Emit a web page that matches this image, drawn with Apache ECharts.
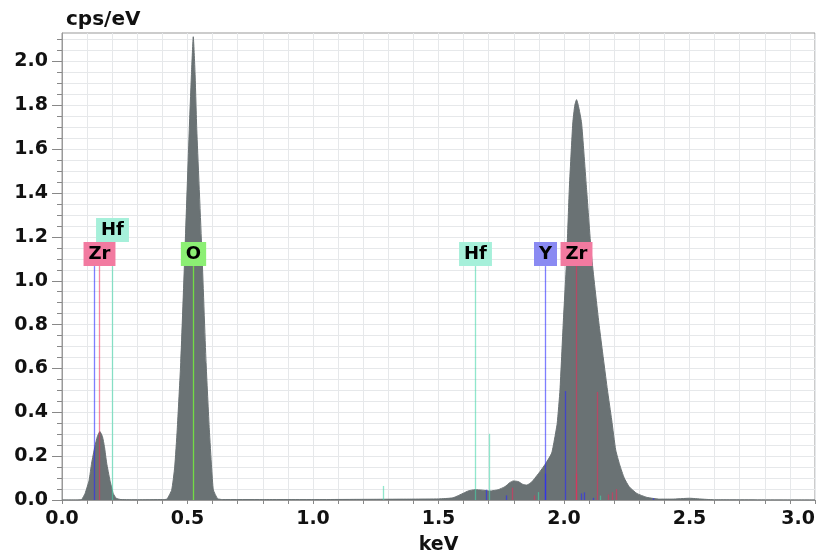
<!DOCTYPE html>
<html><head><meta charset="utf-8">
<script src="https://cdn.jsdelivr.net/npm/echarts@6/dist/echarts.min.js"></script>
<style>html,body{margin:0;padding:0;background:#fff}#c{width:822px;height:556px}</style>
</head><body><div id="c"></div>
<script>
// Spectrum (energy in keV, intensity in cps/eV)
const energyKeV = [0.0, 0.06, 0.078, 0.092, 0.108, 0.118, 0.131, 0.141, 0.151, 0.161, 0.169, 0.178, 0.191, 0.204, 0.216, 0.235, 0.3, 0.4,
  0.418, 0.437, 0.449, 0.459, 0.473, 0.49, 0.507, 0.516, 0.523, 0.530, 0.537, 0.557, 0.574, 0.587, 0.596, 0.603, 0.62, 0.64,
  0.8, 1.0, 1.2, 1.4, 1.5, 1.558, 1.599, 1.62, 1.645, 1.675, 1.705, 1.738, 1.765, 1.785, 1.798, 1.818, 1.835, 1.851, 1.866, 1.878,
  1.904, 1.928, 1.951, 1.964, 1.973, 1.984, 1.997, 2.011, 2.021, 2.035, 2.043, 2.050, 2.057, 2.070, 2.090, 2.110, 2.139, 2.173,
  2.190, 2.206, 2.222, 2.240, 2.260, 2.290, 2.330, 2.380, 2.430, 2.500, 2.550, 2.600, 3.0];
const intensity = [0, 0, 0.002, 0.03, 0.09, 0.168, 0.244, 0.29, 0.312, 0.29, 0.244, 0.168, 0.09, 0.03, 0.008, 0.002, 0.001, 0.002,
  0.004, 0.046, 0.15, 0.32, 0.626, 1.142, 1.689, 1.95, 2.113, 1.95, 1.689, 1.142, 0.626, 0.32, 0.15, 0.046, 0.006, 0.002,
  0.002, 0.002, 0.003, 0.004, 0.005, 0.01, 0.031, 0.042, 0.047, 0.045, 0.041, 0.047, 0.061, 0.08, 0.087, 0.084, 0.072, 0.068, 0.077, 0.091,
  0.129, 0.168, 0.214, 0.289, 0.35, 0.502, 0.807, 1.111, 1.416, 1.72, 1.80, 1.826, 1.80, 1.72, 1.416, 1.111, 0.807, 0.502,
  0.365, 0.228, 0.16, 0.10, 0.06, 0.03, 0.012, 0.004, 0.004, 0.008, 0.004, 0.001, 0];

// Element marker lines
const lineEnergy = [0.127, 0.147, 0.198, 0.521, 1.279, 1.645, 1.689, 1.701, 1.768, 1.794, 1.882, 1.898, 1.925, 1.925, 2.003, 2.048, 2.048, 2.068, 2.080, 2.117, 2.130, 2.143, 2.177, 2.190, 2.206, 2.356];
const lineHeight = [1.067, 1.067, 1.067, 1.067, 0.064, 1.067, 0.047, 0.302, 0.021, 0.056, 0.021, 0.036, 1.067, 0.12, 0.497, 1.067, 0.12, 0.03, 0.035, 0.01, 0.493, 0.02, 0.025, 0.035, 0.05, 0.008];
const lineElement = ['Y','Zr','Hf','O','Hf','Hf','Y','Hf','Y','Zr','Zr','Hf','Y','Y','Y','Zr','Zr','Y','Y','Y','Zr','Hf','Zr','Zr','Zr','Y'];

// Element labels
const labelEnergy = [0.147, 0.198, 0.521, 1.645, 1.925, 2.048];
const labelText = ['Zr', 'Hf', 'O', 'Hf', 'Y', 'Zr'];
const labelLevel = 1.067;

// Axis tick labels
const xTickLabels = [0.0, 0.5, 1.0, 1.5, 2.0, 2.5, 3.0];
const yTickLabels = [0.0, 0.2, 0.4, 0.6, 0.8, 1.0, 1.2, 1.4, 1.6, 1.8, 2.0];

const lineColor = {Zr: 'rgba(240,40,90,0.55)', Hf: 'rgba(70,215,170,0.6)', O: '#72dc45', Y: 'rgba(40,40,255,0.6)'};
const boxColor = {Zr: '#f27aa0', Hf: '#a6f0da', O: '#8cef74', Y: '#8a8af2'};

const spectrum = energyKeV.map((e, i) => [e, intensity[i]]);
const lineData = lineEnergy.map((e, i) => [e, lineHeight[i], i]);
const labelData = labelEnergy.map((e, i) => [e, labelLevel, i]);

const yMinor = [];
for (let k = 0; k <= 42; k++) yMinor.push(+(k * 0.05).toFixed(2));

const FONT = 'DejaVu Sans';
let tiers = null;
function computeTiers(api) {
  tiers = [];
  const placed = [];
  labelEnergy.forEach((e, i) => {
    const px = api.coord([e, 0])[0];
    const w = labelText[i].length * 11 + 12;
    let t = 0;
    while (placed.some(p => p.t === t && Math.abs(p.x - px) < (p.w + w) / 2 - 1)) t++;
    placed.push({x: px, w: w, t: t});
    tiers.push(t);
  });
}

const chart = echarts.init(document.getElementById('c'), null, {renderer: 'canvas'});
chart.setOption({
  animation: false,
  backgroundColor: '#fff',
  grid: {left: 62, right: 7, top: 33, bottom: 56, show: true, borderColor: '#999', borderWidth: 1,
    containLabel: false, outerBoundsMode: 'none'},
  xAxis: {
    type: 'value', min: 0, max: 3.0, interval: 0.1,
    name: 'keV', nameLocation: 'middle', nameGap: 36,
    nameTextStyle: {fontFamily: FONT, fontWeight: 'bold', fontSize: 19, color: '#111'},
    axisLine: {lineStyle: {color: '#999'}},
    axisTick: {length: 4, lineStyle: {color: '#888'}},
    axisLabel: {
      margin: 10, fontFamily: FONT, fontWeight: 'bold', fontSize: 19, color: '#111', alignMaxLabel: 'right',
      formatter: v => (xTickLabels.some(t => Math.abs(t - v) < 1e-6) ? v.toFixed(1) : '')
    },
    splitLine: {show: true, lineStyle: {color: '#e6e8ea', width: 1}}
  },
  yAxis: [{
    type: 'value', min: 0, max: 2.13, interval: 0.05,
    name: 'cps/eV', nameLocation: 'end', nameGap: 3,
    nameTextStyle: {fontFamily: FONT, fontWeight: 'bold', fontSize: 20, color: '#111', align: 'left', verticalAlign: 'bottom', padding: [0, 0, 0, 4]},
    axisLine: {show: true, lineStyle: {color: '#999'}},
    axisTick: {show: true, length: 5, lineStyle: {color: '#888'}, customValues: yMinor},
    axisLabel: {
      margin: 14, fontFamily: FONT, fontWeight: 'bold', fontSize: 19, color: '#111',
      customValues: yTickLabels, formatter: v => v.toFixed(1)
    },
    splitLine: {show: true, lineStyle: {color: '#e6e8ea', width: 1}}
  }, {
    type: 'value', min: 0, max: 2.13, interval: 0.2, position: 'left',
    axisLine: {show: false},
    axisTick: {show: true, length: 10, lineStyle: {color: '#888'}, customValues: yTickLabels},
    axisLabel: {show: false},
    splitLine: {show: false}
  }],
  series: [{
    type: 'line', data: spectrum, showSymbol: false, smooth: 0.15,
    lineStyle: {color: '#6a7274', width: 1},
    areaStyle: {color: '#6a7274', opacity: 1},
    z: 2
  }, {
    type: 'custom', data: lineData, z: 3,
    renderItem: (params, api) => {
      const i = api.value(2);
      const p0 = api.coord([api.value(0), 0]);
      const p1 = api.coord([api.value(0), api.value(1)]);
      const x = Math.round(p0[0]) + 0.5;
      return {type: 'line', shape: {x1: x, y1: p0[1], x2: x, y2: p1[1]},
        style: {stroke: lineColor[lineElement[i]], lineWidth: 1.3}};
    }
  }, {
    type: 'custom', data: labelData, z: 4,
    renderItem: (params, api) => {
      if (!tiers) computeTiers(api);
      const i = api.value(2);
      const p = api.coord([api.value(0), api.value(1)]);
      const el = labelText[i];
      return {type: 'text', x: Math.round(p[0]) + 0.5, y: Math.round(p[1]) - tiers[i] * 24,
        style: {text: el, fill: '#000', font: 'bold 18px "DejaVu Sans"', align: 'center', verticalAlign: 'bottom',
          backgroundColor: boxColor[el], padding: [3, 5, 3, 5], lineHeight: 18}};
    }
  }]
});
</script></body></html>
